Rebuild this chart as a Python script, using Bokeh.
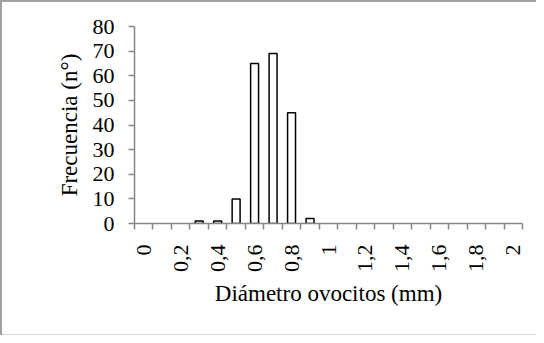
from bokeh.plotting import figure
from bokeh.models import ColumnDataSource, Range1d, FixedTicker
from bokeh.embed import file_html
from bokeh.resources import INLINE

# Categories (diámetro, mm) and frequencies
categorias = ["0", "0,1", "0,2", "0,3", "0,4", "0,5", "0,6", "0,7", "0,8", "0,9", "1",
              "1,1", "1,2", "1,3", "1,4", "1,5", "1,6", "1,7", "1,8", "1,9", "2"]
frecuencia = [0, 0, 0, 1, 1, 10, 65, 69, 45, 2, 0,
              0, 0, 0, 0, 0, 0, 0, 0, 0, 0]
y_ticks = [0, 10, 20, 30, 40, 50, 60, 70, 80]

FONT = "Liberation Serif"
AXIS_GRAY = "#868686"

n = len(categorias)
centers = [i + 0.5 for i in range(n)]
line_cols = ["black" if v > 0 else None for v in frecuencia]
src = ColumnDataSource(dict(x=centers, top=frecuencia, lc=line_cols, cat=categorias))

p = figure(width=536, height=335, output_backend="svg", toolbar_location=None,
           x_range=Range1d(0, n), y_range=Range1d(0, 80),
           min_border_left=134, min_border_right=14, min_border_top=26, min_border_bottom=112)

p.vbar(x="x", top="top", bottom=0, width=0.43, source=src,
       fill_color="white", line_color="lc", line_width=1.5)

p.xgrid.visible = False
p.ygrid.visible = False
p.outline_line_color = None
p.border_fill_color = None
p.background_fill_color = None

# x axis: labels at every other category centre, tick marks between categories
major = [centers[i] for i in range(0, n, 2)]
p.xaxis.ticker = FixedTicker(ticks=major, minor_ticks=list(range(0, n + 1)))
p.xaxis.major_label_overrides = {centers[i]: categorias[i] for i in range(0, n, 2)}
p.xaxis.major_tick_line_color = None
p.xaxis.major_tick_out = 0
p.xaxis.major_tick_in = 0
p.xaxis.minor_tick_line_color = AXIS_GRAY
p.xaxis.minor_tick_out = 6
p.xaxis.minor_tick_in = 0
p.xaxis.minor_tick_line_width = 1.5
p.xaxis.major_label_orientation = 1.5707963
p.xaxis.major_label_standoff = 15
p.xaxis.axis_label = "Diámetro ovocitos (mm)"
p.xaxis.axis_label_standoff = 6

# y axis
p.yaxis.ticker = FixedTicker(ticks=y_ticks)
p.yaxis.minor_tick_line_color = None
p.yaxis.major_tick_out = 6
p.yaxis.major_tick_in = 0
p.yaxis.major_tick_line_color = AXIS_GRAY
p.yaxis.major_tick_line_width = 1.5
p.yaxis.major_label_standoff = 14
p.yaxis.axis_label = "Frecuencia (n°)"
p.yaxis.axis_label_standoff = 8

for ax in (p.xaxis, p.yaxis):
    ax.axis_line_color = AXIS_GRAY
    ax.axis_line_width = 1.5
    ax.major_label_text_font = FONT
    ax.major_label_text_font_size = "22px"
    ax.major_label_text_color = "black"
    ax.axis_label_text_font = FONT
    ax.axis_label_text_font_size = "23px"
    ax.axis_label_text_font_style = "normal"
    ax.axis_label_text_color = "black"

p.styles = {"box-shadow": "inset 2px 2px 0 0 #a0a0a0, inset 0 -1px 0 0 #d6d6d6"}

open("out.html", "w").write(file_html(p, INLINE))
